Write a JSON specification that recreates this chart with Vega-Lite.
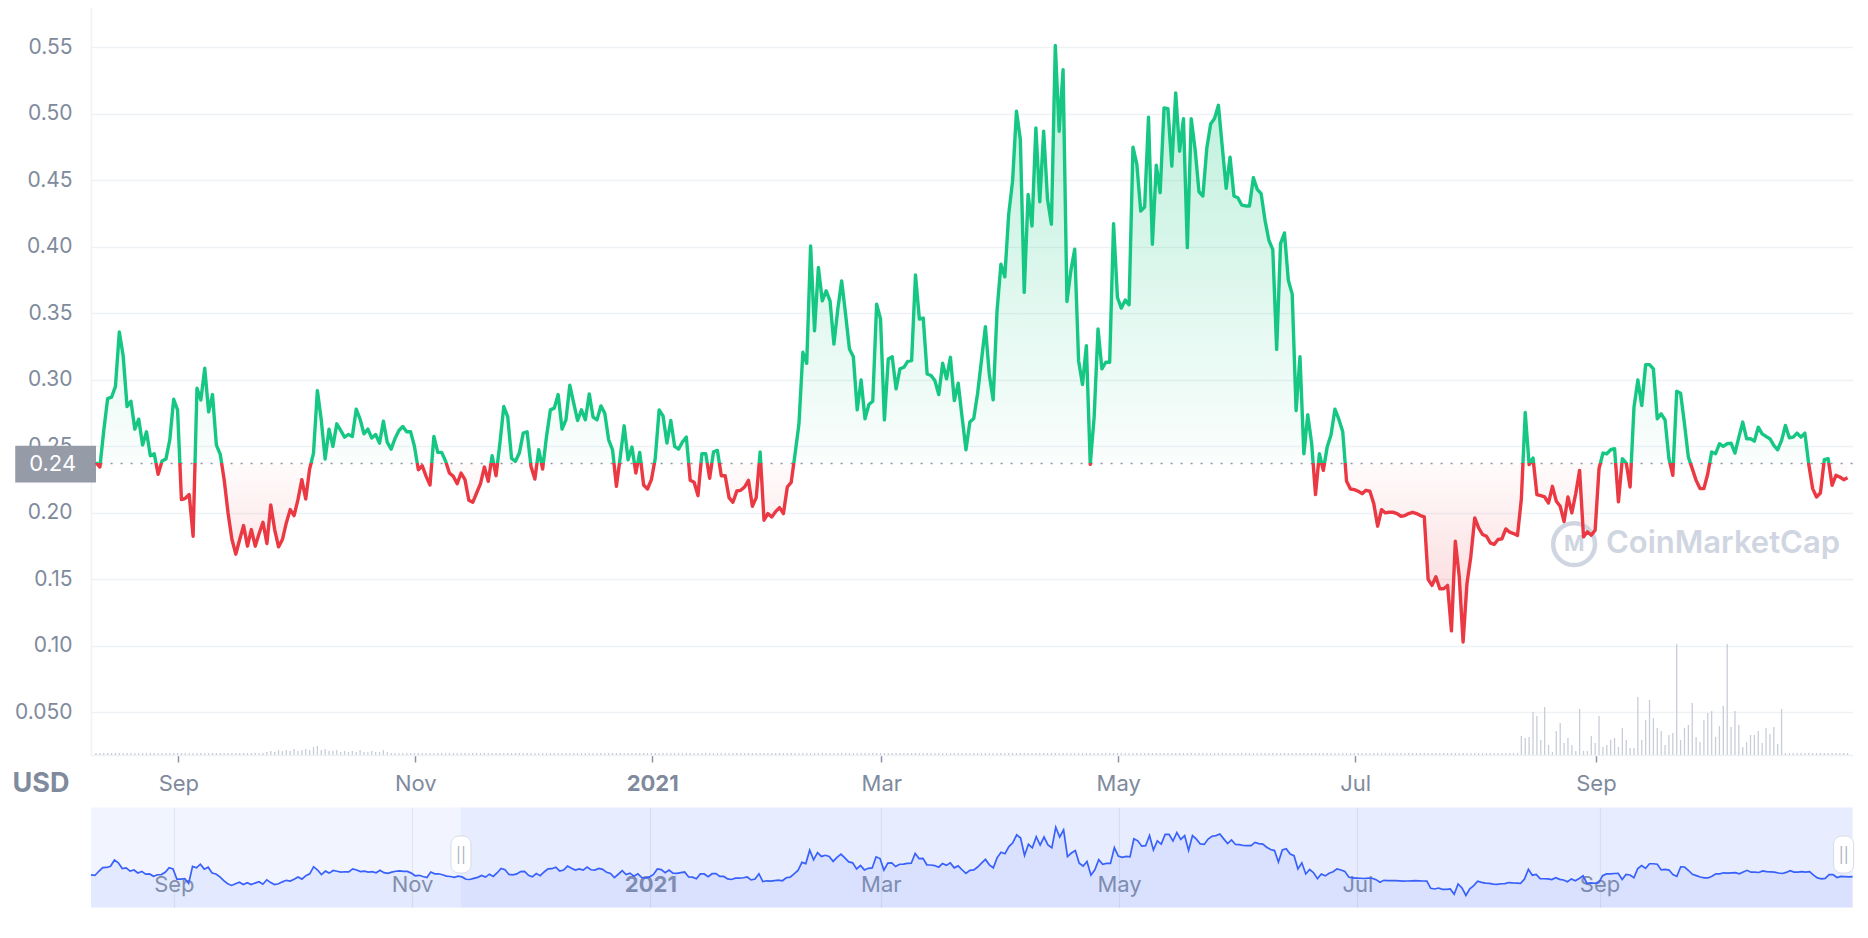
{
"$schema":"https://vega.github.io/schema/vega-lite/v6.json",
"background":"white",
"padding":{"left":12,"top":7,"right":0,"bottom":4},
"config":{"font":"Inter","view":{"stroke":null}},
"spacing":52.5,
"bounds":"flush",
"datasets":{"prices":[
{"date":"2020-08-10T19:00","price":0.238,"volume":2},
{"date":"2020-08-11T19:00","price":0.2345,"volume":2},
{"date":"2020-08-12T19:00","price":0.262,"volume":2},
{"date":"2020-08-13T19:00","price":0.286,"volume":2},
{"date":"2020-08-14T19:00","price":0.287,"volume":2},
{"date":"2020-08-15T19:00","price":0.295,"volume":2},
{"date":"2020-08-16T19:00","price":0.336,"volume":2},
{"date":"2020-08-17T19:00","price":0.318,"volume":2},
{"date":"2020-08-18T19:00","price":0.28,"volume":2},
{"date":"2020-08-19T19:00","price":0.284,"volume":2},
{"date":"2020-08-20T19:00","price":0.263,"volume":2},
{"date":"2020-08-21T19:00","price":0.2705,"volume":2},
{"date":"2020-08-22T19:00","price":0.251,"volume":2},
{"date":"2020-08-23T19:00","price":0.261,"volume":2},
{"date":"2020-08-24T19:00","price":0.243,"volume":2},
{"date":"2020-08-25T19:00","price":0.2445,"volume":2},
{"date":"2020-08-26T19:00","price":0.229,"volume":2},
{"date":"2020-08-27T19:00","price":0.239,"volume":2},
{"date":"2020-08-28T19:00","price":0.2405,"volume":2},
{"date":"2020-08-29T19:00","price":0.255,"volume":2},
{"date":"2020-08-30T19:00","price":0.2855,"volume":2},
{"date":"2020-08-31T19:00","price":0.2775,"volume":2},
{"date":"2020-09-01T19:00","price":0.21,"volume":2},
{"date":"2020-09-02T19:00","price":0.211,"volume":2},
{"date":"2020-09-03T19:00","price":0.2138,"volume":2},
{"date":"2020-09-04T19:00","price":0.1825,"volume":2},
{"date":"2020-09-05T19:00","price":0.2938,"volume":2},
{"date":"2020-09-06T19:00","price":0.285,"volume":2},
{"date":"2020-09-07T19:00","price":0.3088,"volume":2},
{"date":"2020-09-08T19:00","price":0.276,"volume":2},
{"date":"2020-09-09T19:00","price":0.289,"volume":2},
{"date":"2020-09-10T19:00","price":0.251,"volume":2},
{"date":"2020-09-11T19:00","price":0.244,"volume":2},
{"date":"2020-09-12T19:00","price":0.225,"volume":2},
{"date":"2020-09-13T19:00","price":0.2,"volume":2},
{"date":"2020-09-14T19:00","price":0.18,"volume":2},
{"date":"2020-09-15T19:00","price":0.169,"volume":2},
{"date":"2020-09-16T19:00","price":0.18,"volume":2},
{"date":"2020-09-17T19:00","price":0.1905,"volume":2},
{"date":"2020-09-18T19:00","price":0.175,"volume":2},
{"date":"2020-09-19T19:00","price":0.1875,"volume":2},
{"date":"2020-09-20T19:00","price":0.175,"volume":2},
{"date":"2020-09-21T19:00","price":0.1845,"volume":2},
{"date":"2020-09-22T19:00","price":0.193,"volume":2},
{"date":"2020-09-23T19:00","price":0.177,"volume":3},
{"date":"2020-09-24T19:00","price":0.206,"volume":4},
{"date":"2020-09-25T19:00","price":0.1875,"volume":3},
{"date":"2020-09-26T19:00","price":0.1745,"volume":5},
{"date":"2020-09-27T19:00","price":0.18,"volume":4},
{"date":"2020-09-28T19:00","price":0.1925,"volume":5},
{"date":"2020-09-29T19:00","price":0.2025,"volume":4},
{"date":"2020-09-30T19:00","price":0.198,"volume":6},
{"date":"2020-10-01T19:00","price":0.21,"volume":4},
{"date":"2020-10-02T19:00","price":0.225,"volume":5},
{"date":"2020-10-03T19:00","price":0.2105,"volume":6},
{"date":"2020-10-04T19:00","price":0.233,"volume":5},
{"date":"2020-10-05T19:00","price":0.245,"volume":8},
{"date":"2020-10-06T19:00","price":0.292,"volume":9},
{"date":"2020-10-07T19:00","price":0.27,"volume":5},
{"date":"2020-10-08T19:00","price":0.2405,"volume":6},
{"date":"2020-10-09T19:00","price":0.263,"volume":4},
{"date":"2020-10-10T19:00","price":0.25,"volume":4},
{"date":"2020-10-11T19:00","price":0.267,"volume":5},
{"date":"2020-10-12T19:00","price":0.262,"volume":3},
{"date":"2020-10-13T19:00","price":0.257,"volume":4},
{"date":"2020-10-14T19:00","price":0.259,"volume":3},
{"date":"2020-10-15T19:00","price":0.2575,"volume":4},
{"date":"2020-10-16T19:00","price":0.278,"volume":3},
{"date":"2020-10-17T19:00","price":0.2705,"volume":5},
{"date":"2020-10-18T19:00","price":0.2595,"volume":3},
{"date":"2020-10-19T19:00","price":0.263,"volume":3},
{"date":"2020-10-20T19:00","price":0.2563,"volume":4},
{"date":"2020-10-21T19:00","price":0.259,"volume":3},
{"date":"2020-10-22T19:00","price":0.2525,"volume":3},
{"date":"2020-10-23T19:00","price":0.269,"volume":5},
{"date":"2020-10-24T19:00","price":0.253,"volume":3},
{"date":"2020-10-25T19:00","price":0.248,"volume":2},
{"date":"2020-10-26T19:00","price":0.256,"volume":2},
{"date":"2020-10-27T19:00","price":0.262,"volume":2},
{"date":"2020-10-28T19:00","price":0.265,"volume":2},
{"date":"2020-10-29T19:00","price":0.261,"volume":2},
{"date":"2020-10-30T19:00","price":0.261,"volume":2},
{"date":"2020-10-31T19:00","price":0.25,"volume":2},
{"date":"2020-11-01T19:00","price":0.2325,"volume":2},
{"date":"2020-11-02T19:00","price":0.2355,"volume":2},
{"date":"2020-11-03T19:00","price":0.2275,"volume":2},
{"date":"2020-11-04T19:00","price":0.221,"volume":2},
{"date":"2020-11-05T19:00","price":0.2575,"volume":2},
{"date":"2020-11-06T19:00","price":0.2455,"volume":2},
{"date":"2020-11-07T19:00","price":0.2455,"volume":2},
{"date":"2020-11-08T19:00","price":0.239,"volume":2},
{"date":"2020-11-09T19:00","price":0.23,"volume":2},
{"date":"2020-11-10T19:00","price":0.2275,"volume":2},
{"date":"2020-11-11T19:00","price":0.222,"volume":2},
{"date":"2020-11-12T19:00","price":0.23,"volume":2},
{"date":"2020-11-13T19:00","price":0.225,"volume":2},
{"date":"2020-11-14T19:00","price":0.2095,"volume":2},
{"date":"2020-11-15T19:00","price":0.208,"volume":2},
{"date":"2020-11-16T19:00","price":0.215,"volume":2},
{"date":"2020-11-17T19:00","price":0.222,"volume":2},
{"date":"2020-11-18T19:00","price":0.2345,"volume":2},
{"date":"2020-11-19T19:00","price":0.2238,"volume":2},
{"date":"2020-11-20T19:00","price":0.243,"volume":2},
{"date":"2020-11-21T19:00","price":0.228,"volume":2},
{"date":"2020-11-22T19:00","price":0.2525,"volume":2},
{"date":"2020-11-23T19:00","price":0.28,"volume":2},
{"date":"2020-11-24T19:00","price":0.2725,"volume":2},
{"date":"2020-11-25T19:00","price":0.241,"volume":2},
{"date":"2020-11-26T19:00","price":0.2388,"volume":2},
{"date":"2020-11-27T19:00","price":0.245,"volume":2},
{"date":"2020-11-28T19:00","price":0.26,"volume":2},
{"date":"2020-11-29T19:00","price":0.261,"volume":2},
{"date":"2020-11-30T19:00","price":0.235,"volume":2},
{"date":"2020-12-01T19:00","price":0.2255,"volume":2},
{"date":"2020-12-02T19:00","price":0.2475,"volume":2},
{"date":"2020-12-03T19:00","price":0.233,"volume":2},
{"date":"2020-12-04T19:00","price":0.2575,"volume":2},
{"date":"2020-12-05T19:00","price":0.2775,"volume":2},
{"date":"2020-12-06T19:00","price":0.2788,"volume":2},
{"date":"2020-12-07T19:00","price":0.289,"volume":2},
{"date":"2020-12-08T19:00","price":0.263,"volume":2},
{"date":"2020-12-09T19:00","price":0.27,"volume":2},
{"date":"2020-12-10T19:00","price":0.296,"volume":2},
{"date":"2020-12-11T19:00","price":0.2825,"volume":2},
{"date":"2020-12-12T19:00","price":0.2695,"volume":2},
{"date":"2020-12-13T19:00","price":0.2775,"volume":2},
{"date":"2020-12-14T19:00","price":0.27,"volume":2},
{"date":"2020-12-15T19:00","price":0.2895,"volume":2},
{"date":"2020-12-16T19:00","price":0.272,"volume":2},
{"date":"2020-12-17T19:00","price":0.27,"volume":2},
{"date":"2020-12-18T19:00","price":0.2805,"volume":2},
{"date":"2020-12-19T19:00","price":0.275,"volume":2},
{"date":"2020-12-20T19:00","price":0.255,"volume":2},
{"date":"2020-12-21T19:00","price":0.2475,"volume":2},
{"date":"2020-12-22T19:00","price":0.22,"volume":2},
{"date":"2020-12-23T19:00","price":0.2425,"volume":2},
{"date":"2020-12-24T19:00","price":0.2655,"volume":2},
{"date":"2020-12-25T19:00","price":0.24,"volume":2},
{"date":"2020-12-26T19:00","price":0.2495,"volume":2},
{"date":"2020-12-27T19:00","price":0.23,"volume":2},
{"date":"2020-12-28T19:00","price":0.2455,"volume":2},
{"date":"2020-12-29T19:00","price":0.221,"volume":2},
{"date":"2020-12-30T19:00","price":0.218,"volume":2},
{"date":"2020-12-31T19:00","price":0.225,"volume":2},
{"date":"2021-01-01T19:00","price":0.241,"volume":2},
{"date":"2021-01-02T19:00","price":0.2775,"volume":2},
{"date":"2021-01-03T19:00","price":0.273,"volume":2},
{"date":"2021-01-04T19:00","price":0.2525,"volume":2},
{"date":"2021-01-05T19:00","price":0.2695,"volume":2},
{"date":"2021-01-06T19:00","price":0.25,"volume":2},
{"date":"2021-01-07T19:00","price":0.248,"volume":2},
{"date":"2021-01-08T19:00","price":0.2533,"volume":2},
{"date":"2021-01-09T19:00","price":0.257,"volume":2},
{"date":"2021-01-10T19:00","price":0.2245,"volume":2},
{"date":"2021-01-11T19:00","price":0.223,"volume":2},
{"date":"2021-01-12T19:00","price":0.213,"volume":2},
{"date":"2021-01-13T19:00","price":0.2445,"volume":2},
{"date":"2021-01-14T19:00","price":0.2445,"volume":2},
{"date":"2021-01-15T19:00","price":0.226,"volume":2},
{"date":"2021-01-16T19:00","price":0.246,"volume":2},
{"date":"2021-01-17T19:00","price":0.247,"volume":2},
{"date":"2021-01-18T19:00","price":0.228,"volume":2},
{"date":"2021-01-19T19:00","price":0.228,"volume":2},
{"date":"2021-01-20T19:00","price":0.2115,"volume":2},
{"date":"2021-01-21T19:00","price":0.208,"volume":2},
{"date":"2021-01-22T19:00","price":0.2165,"volume":2},
{"date":"2021-01-23T19:00","price":0.217,"volume":2},
{"date":"2021-01-24T19:00","price":0.2195,"volume":2},
{"date":"2021-01-25T19:00","price":0.2245,"volume":2},
{"date":"2021-01-26T19:00","price":0.205,"volume":2},
{"date":"2021-01-27T19:00","price":0.2115,"volume":2},
{"date":"2021-01-28T19:00","price":0.2458,"volume":2},
{"date":"2021-01-29T19:00","price":0.1945,"volume":2},
{"date":"2021-01-30T19:00","price":0.1995,"volume":2},
{"date":"2021-01-31T19:00","price":0.197,"volume":2},
{"date":"2021-02-01T19:00","price":0.201,"volume":2},
{"date":"2021-02-02T19:00","price":0.204,"volume":2},
{"date":"2021-02-03T19:00","price":0.1995,"volume":2},
{"date":"2021-02-04T19:00","price":0.2195,"volume":2},
{"date":"2021-02-05T19:00","price":0.223,"volume":2},
{"date":"2021-02-06T19:00","price":0.2445,"volume":2},
{"date":"2021-02-07T19:00","price":0.267,"volume":2},
{"date":"2021-02-08T19:00","price":0.3208,"volume":2},
{"date":"2021-02-09T19:00","price":0.3125,"volume":2},
{"date":"2021-02-10T19:00","price":0.4008,"volume":2},
{"date":"2021-02-11T19:00","price":0.337,"volume":2},
{"date":"2021-02-12T19:00","price":0.3845,"volume":2},
{"date":"2021-02-13T19:00","price":0.3595,"volume":2},
{"date":"2021-02-14T19:00","price":0.367,"volume":2},
{"date":"2021-02-15T19:00","price":0.3595,"volume":2},
{"date":"2021-02-16T19:00","price":0.327,"volume":2},
{"date":"2021-02-17T19:00","price":0.3533,"volume":2},
{"date":"2021-02-18T19:00","price":0.3745,"volume":2},
{"date":"2021-02-19T19:00","price":0.3495,"volume":2},
{"date":"2021-02-20T19:00","price":0.3233,"volume":2},
{"date":"2021-02-21T19:00","price":0.3175,"volume":2},
{"date":"2021-02-22T19:00","price":0.2775,"volume":2},
{"date":"2021-02-23T19:00","price":0.3,"volume":2},
{"date":"2021-02-24T19:00","price":0.2708,"volume":2},
{"date":"2021-02-25T19:00","price":0.2815,"volume":2},
{"date":"2021-02-26T19:00","price":0.284,"volume":2},
{"date":"2021-02-27T19:00","price":0.357,"volume":2},
{"date":"2021-02-28T19:00","price":0.3458,"volume":2},
{"date":"2021-03-01T19:00","price":0.27,"volume":2},
{"date":"2021-03-02T19:00","price":0.3158,"volume":2},
{"date":"2021-03-03T19:00","price":0.3175,"volume":2},
{"date":"2021-03-04T19:00","price":0.2933,"volume":2},
{"date":"2021-03-05T19:00","price":0.3083,"volume":2},
{"date":"2021-03-06T19:00","price":0.3095,"volume":2},
{"date":"2021-03-07T19:00","price":0.314,"volume":2},
{"date":"2021-03-08T19:00","price":0.3145,"volume":2},
{"date":"2021-03-09T19:00","price":0.379,"volume":2},
{"date":"2021-03-10T19:00","price":0.3458,"volume":2},
{"date":"2021-03-11T19:00","price":0.3465,"volume":2},
{"date":"2021-03-12T19:00","price":0.3045,"volume":2},
{"date":"2021-03-13T19:00","price":0.3033,"volume":2},
{"date":"2021-03-14T19:00","price":0.2995,"volume":2},
{"date":"2021-03-15T19:00","price":0.289,"volume":2},
{"date":"2021-03-16T19:00","price":0.3125,"volume":2},
{"date":"2021-03-17T19:00","price":0.3008,"volume":2},
{"date":"2021-03-18T19:00","price":0.317,"volume":2},
{"date":"2021-03-19T19:00","price":0.2845,"volume":2},
{"date":"2021-03-20T19:00","price":0.2975,"volume":2},
{"date":"2021-03-21T19:00","price":0.272,"volume":2},
{"date":"2021-03-22T19:00","price":0.2475,"volume":2},
{"date":"2021-03-23T19:00","price":0.2683,"volume":2},
{"date":"2021-03-24T19:00","price":0.271,"volume":2},
{"date":"2021-03-25T19:00","price":0.29,"volume":2},
{"date":"2021-03-26T19:00","price":0.315,"volume":2},
{"date":"2021-03-27T19:00","price":0.34,"volume":2},
{"date":"2021-03-28T19:00","price":0.3045,"volume":2},
{"date":"2021-03-29T19:00","price":0.285,"volume":2},
{"date":"2021-03-30T19:00","price":0.352,"volume":2},
{"date":"2021-03-31T19:00","price":0.387,"volume":2},
{"date":"2021-04-01T19:00","price":0.3775,"volume":2},
{"date":"2021-04-02T19:00","price":0.4245,"volume":2},
{"date":"2021-04-03T19:00","price":0.4495,"volume":2},
{"date":"2021-04-04T19:00","price":0.502,"volume":2},
{"date":"2021-04-05T19:00","price":0.4808,"volume":2},
{"date":"2021-04-06T19:00","price":0.3658,"volume":2},
{"date":"2021-04-07T19:00","price":0.4395,"volume":2},
{"date":"2021-04-08T19:00","price":0.4158,"volume":2},
{"date":"2021-04-09T19:00","price":0.4895,"volume":2},
{"date":"2021-04-10T19:00","price":0.434,"volume":2},
{"date":"2021-04-11T19:00","price":0.487,"volume":2},
{"date":"2021-04-12T19:00","price":0.4358,"volume":2},
{"date":"2021-04-13T19:00","price":0.417,"volume":2},
{"date":"2021-04-14T19:00","price":0.5515,"volume":2},
{"date":"2021-04-15T19:00","price":0.487,"volume":2},
{"date":"2021-04-16T19:00","price":0.5333,"volume":2},
{"date":"2021-04-17T19:00","price":0.359,"volume":2},
{"date":"2021-04-18T19:00","price":0.382,"volume":2},
{"date":"2021-04-19T19:00","price":0.3983,"volume":2},
{"date":"2021-04-20T19:00","price":0.3145,"volume":2},
{"date":"2021-04-21T19:00","price":0.2965,"volume":2},
{"date":"2021-04-22T19:00","price":0.3258,"volume":2},
{"date":"2021-04-23T19:00","price":0.2365,"volume":2},
{"date":"2021-04-24T19:00","price":0.272,"volume":2},
{"date":"2021-04-25T19:00","price":0.3383,"volume":2},
{"date":"2021-04-26T19:00","price":0.3083,"volume":2},
{"date":"2021-04-27T19:00","price":0.3133,"volume":2},
{"date":"2021-04-28T19:00","price":0.3133,"volume":2},
{"date":"2021-04-29T19:00","price":0.4175,"volume":2},
{"date":"2021-04-30T19:00","price":0.362,"volume":2},
{"date":"2021-05-01T19:00","price":0.354,"volume":2},
{"date":"2021-05-02T19:00","price":0.36,"volume":2},
{"date":"2021-05-03T19:00","price":0.3565,"volume":2},
{"date":"2021-05-04T19:00","price":0.475,"volume":2},
{"date":"2021-05-05T19:00","price":0.462,"volume":2},
{"date":"2021-05-06T19:00","price":0.427,"volume":2},
{"date":"2021-05-07T19:00","price":0.43,"volume":2},
{"date":"2021-05-08T19:00","price":0.4975,"volume":2},
{"date":"2021-05-09T19:00","price":0.402,"volume":2},
{"date":"2021-05-10T19:00","price":0.4615,"volume":2},
{"date":"2021-05-11T19:00","price":0.4408,"volume":2},
{"date":"2021-05-12T19:00","price":0.5045,"volume":2},
{"date":"2021-05-13T19:00","price":0.504,"volume":2},
{"date":"2021-05-14T19:00","price":0.4608,"volume":2},
{"date":"2021-05-15T19:00","price":0.5158,"volume":2},
{"date":"2021-05-16T19:00","price":0.472,"volume":2},
{"date":"2021-05-17T19:00","price":0.4965,"volume":2},
{"date":"2021-05-18T19:00","price":0.3995,"volume":2},
{"date":"2021-05-19T19:00","price":0.4965,"volume":2},
{"date":"2021-05-20T19:00","price":0.4733,"volume":2},
{"date":"2021-05-21T19:00","price":0.4415,"volume":2},
{"date":"2021-05-22T19:00","price":0.4383,"volume":2},
{"date":"2021-05-23T19:00","price":0.474,"volume":2},
{"date":"2021-05-24T19:00","price":0.4925,"volume":2},
{"date":"2021-05-25T19:00","price":0.4965,"volume":2},
{"date":"2021-05-26T19:00","price":0.5065,"volume":2},
{"date":"2021-05-27T19:00","price":0.475,"volume":2},
{"date":"2021-05-28T19:00","price":0.444,"volume":2},
{"date":"2021-05-29T19:00","price":0.4675,"volume":2},
{"date":"2021-05-30T19:00","price":0.4383,"volume":2},
{"date":"2021-05-31T19:00","price":0.437,"volume":2},
{"date":"2021-06-01T19:00","price":0.4315,"volume":2},
{"date":"2021-06-02T19:00","price":0.4308,"volume":2},
{"date":"2021-06-03T19:00","price":0.4308,"volume":2},
{"date":"2021-06-04T19:00","price":0.452,"volume":2},
{"date":"2021-06-05T19:00","price":0.4433,"volume":2},
{"date":"2021-06-06T19:00","price":0.44,"volume":2},
{"date":"2021-06-07T19:00","price":0.42,"volume":2},
{"date":"2021-06-08T19:00","price":0.405,"volume":2},
{"date":"2021-06-09T19:00","price":0.398,"volume":2},
{"date":"2021-06-10T19:00","price":0.323,"volume":2},
{"date":"2021-06-11T19:00","price":0.4025,"volume":2},
{"date":"2021-06-12T19:00","price":0.4105,"volume":2},
{"date":"2021-06-13T19:00","price":0.375,"volume":2},
{"date":"2021-06-14T19:00","price":0.3645,"volume":2},
{"date":"2021-06-15T19:00","price":0.277,"volume":2},
{"date":"2021-06-16T19:00","price":0.3175,"volume":2},
{"date":"2021-06-17T19:00","price":0.2445,"volume":2},
{"date":"2021-06-18T19:00","price":0.2738,"volume":2},
{"date":"2021-06-19T19:00","price":0.2525,"volume":2},
{"date":"2021-06-20T19:00","price":0.2138,"volume":2},
{"date":"2021-06-21T19:00","price":0.2445,"volume":2},
{"date":"2021-06-22T19:00","price":0.232,"volume":2},
{"date":"2021-06-23T19:00","price":0.2495,"volume":2},
{"date":"2021-06-24T19:00","price":0.2588,"volume":2},
{"date":"2021-06-25T19:00","price":0.278,"volume":2},
{"date":"2021-06-26T19:00","price":0.2705,"volume":2},
{"date":"2021-06-27T19:00","price":0.2613,"volume":2},
{"date":"2021-06-28T19:00","price":0.2238,"volume":2},
{"date":"2021-06-29T19:00","price":0.218,"volume":2},
{"date":"2021-06-30T19:00","price":0.2175,"volume":2},
{"date":"2021-07-01T19:00","price":0.2163,"volume":2},
{"date":"2021-07-02T19:00","price":0.2145,"volume":2},
{"date":"2021-07-03T19:00","price":0.217,"volume":2},
{"date":"2021-07-04T19:00","price":0.2163,"volume":2},
{"date":"2021-07-05T19:00","price":0.207,"volume":2},
{"date":"2021-07-06T19:00","price":0.19,"volume":2},
{"date":"2021-07-07T19:00","price":0.2025,"volume":2},
{"date":"2021-07-08T19:00","price":0.2,"volume":2},
{"date":"2021-07-09T19:00","price":0.2005,"volume":2},
{"date":"2021-07-10T19:00","price":0.2005,"volume":2},
{"date":"2021-07-11T19:00","price":0.1995,"volume":2},
{"date":"2021-07-12T19:00","price":0.1975,"volume":2},
{"date":"2021-07-13T19:00","price":0.198,"volume":2},
{"date":"2021-07-14T19:00","price":0.1995,"volume":2},
{"date":"2021-07-15T19:00","price":0.2005,"volume":2},
{"date":"2021-07-16T19:00","price":0.1995,"volume":2},
{"date":"2021-07-17T19:00","price":0.198,"volume":2},
{"date":"2021-07-18T19:00","price":0.197,"volume":2},
{"date":"2021-07-19T19:00","price":0.15,"volume":2},
{"date":"2021-07-20T19:00","price":0.1455,"volume":2},
{"date":"2021-07-21T19:00","price":0.152,"volume":2},
{"date":"2021-07-22T19:00","price":0.143,"volume":2},
{"date":"2021-07-23T19:00","price":0.143,"volume":2},
{"date":"2021-07-24T19:00","price":0.1455,"volume":2},
{"date":"2021-07-25T19:00","price":0.1113,"volume":2},
{"date":"2021-07-26T19:00","price":0.1788,"volume":2},
{"date":"2021-07-27T19:00","price":0.1525,"volume":2},
{"date":"2021-07-28T19:00","price":0.103,"volume":2},
{"date":"2021-07-29T19:00","price":0.147,"volume":2},
{"date":"2021-07-30T19:00","price":0.1675,"volume":2},
{"date":"2021-07-31T19:00","price":0.1963,"volume":2},
{"date":"2021-08-01T19:00","price":0.1888,"volume":2},
{"date":"2021-08-02T19:00","price":0.1838,"volume":2},
{"date":"2021-08-03T19:00","price":0.1825,"volume":2},
{"date":"2021-08-04T19:00","price":0.1775,"volume":2},
{"date":"2021-08-05T19:00","price":0.1763,"volume":2},
{"date":"2021-08-06T19:00","price":0.18,"volume":2},
{"date":"2021-08-07T19:00","price":0.1805,"volume":2},
{"date":"2021-08-08T19:00","price":0.188,"volume":2},
{"date":"2021-08-09T19:00","price":0.1855,"volume":2},
{"date":"2021-08-10T19:00","price":0.1845,"volume":2},
{"date":"2021-08-11T19:00","price":0.183,"volume":2},
{"date":"2021-08-12T19:00","price":0.2105,"volume":19},
{"date":"2021-08-13T19:00","price":0.2755,"volume":17},
{"date":"2021-08-14T19:00","price":0.2363,"volume":18},
{"date":"2021-08-15T19:00","price":0.2413,"volume":43},
{"date":"2021-08-16T19:00","price":0.2138,"volume":39},
{"date":"2021-08-17T19:00","price":0.213,"volume":15},
{"date":"2021-08-18T19:00","price":0.212,"volume":48},
{"date":"2021-08-19T19:00","price":0.2075,"volume":10},
{"date":"2021-08-20T19:00","price":0.22,"volume":3},
{"date":"2021-08-21T19:00","price":0.2088,"volume":24},
{"date":"2021-08-22T19:00","price":0.205,"volume":32},
{"date":"2021-08-23T19:00","price":0.1935,"volume":12},
{"date":"2021-08-24T19:00","price":0.212,"volume":17},
{"date":"2021-08-25T19:00","price":0.2,"volume":10},
{"date":"2021-08-26T19:00","price":0.2145,"volume":4},
{"date":"2021-08-27T19:00","price":0.232,"volume":46},
{"date":"2021-08-28T19:00","price":0.182,"volume":4},
{"date":"2021-08-29T19:00","price":0.1858,"volume":4},
{"date":"2021-08-30T19:00","price":0.1833,"volume":19},
{"date":"2021-08-31T19:00","price":0.187,"volume":12},
{"date":"2021-09-01T19:00","price":0.2333,"volume":39},
{"date":"2021-09-02T19:00","price":0.245,"volume":8},
{"date":"2021-09-03T19:00","price":0.2445,"volume":10},
{"date":"2021-09-04T19:00","price":0.2475,"volume":15},
{"date":"2021-09-05T19:00","price":0.2483,"volume":17},
{"date":"2021-09-06T19:00","price":0.2083,"volume":8},
{"date":"2021-09-07T19:00","price":0.2408,"volume":27},
{"date":"2021-09-08T19:00","price":0.2375,"volume":15},
{"date":"2021-09-09T19:00","price":0.2195,"volume":7},
{"date":"2021-09-10T19:00","price":0.2795,"volume":7},
{"date":"2021-09-11T19:00","price":0.3,"volume":58},
{"date":"2021-09-12T19:00","price":0.2808,"volume":15},
{"date":"2021-09-13T19:00","price":0.3115,"volume":35},
{"date":"2021-09-14T19:00","price":0.3115,"volume":55},
{"date":"2021-09-15T19:00","price":0.3083,"volume":37},
{"date":"2021-09-16T19:00","price":0.2708,"volume":27},
{"date":"2021-09-17T19:00","price":0.2745,"volume":24},
{"date":"2021-09-18T19:00","price":0.27,"volume":10},
{"date":"2021-09-19T19:00","price":0.2408,"volume":20},
{"date":"2021-09-20T19:00","price":0.2283,"volume":22},
{"date":"2021-09-21T19:00","price":0.2915,"volume":111},
{"date":"2021-09-22T19:00","price":0.29,"volume":15},
{"date":"2021-09-23T19:00","price":0.267,"volume":27},
{"date":"2021-09-24T19:00","price":0.242,"volume":30},
{"date":"2021-09-25T19:00","price":0.2333,"volume":52},
{"date":"2021-09-26T19:00","price":0.2245,"volume":18},
{"date":"2021-09-27T19:00","price":0.2183,"volume":13},
{"date":"2021-09-28T19:00","price":0.2183,"volume":35},
{"date":"2021-09-29T19:00","price":0.2295,"volume":42},
{"date":"2021-09-30T19:00","price":0.2458,"volume":44},
{"date":"2021-10-01T19:00","price":0.2445,"volume":18},
{"date":"2021-10-02T19:00","price":0.252,"volume":29},
{"date":"2021-10-03T19:00","price":0.25,"volume":49},
{"date":"2021-10-04T19:00","price":0.252,"volume":111},
{"date":"2021-10-05T19:00","price":0.2525,"volume":28},
{"date":"2021-10-06T19:00","price":0.245,"volume":44},
{"date":"2021-10-07T19:00","price":0.257,"volume":30},
{"date":"2021-10-08T19:00","price":0.2683,"volume":8},
{"date":"2021-10-09T19:00","price":0.2558,"volume":13},
{"date":"2021-10-10T19:00","price":0.2558,"volume":20},
{"date":"2021-10-11T19:00","price":0.254,"volume":20},
{"date":"2021-10-12T19:00","price":0.2645,"volume":24},
{"date":"2021-10-13T19:00","price":0.2595,"volume":12},
{"date":"2021-10-14T19:00","price":0.2575,"volume":27},
{"date":"2021-10-15T19:00","price":0.2558,"volume":21},
{"date":"2021-10-16T19:00","price":0.2508,"volume":28},
{"date":"2021-10-17T19:00","price":0.2475,"volume":11},
{"date":"2021-10-18T19:00","price":0.2545,"volume":46},
{"date":"2021-10-19T19:00","price":0.2658,"volume":2},
{"date":"2021-10-20T19:00","price":0.2565,"volume":2},
{"date":"2021-10-21T19:00","price":0.257,"volume":2},
{"date":"2021-10-22T19:00","price":0.26,"volume":2},
{"date":"2021-10-23T19:00","price":0.257,"volume":2},
{"date":"2021-10-24T19:00","price":0.26,"volume":2},
{"date":"2021-10-25T19:00","price":0.2365,"volume":2},
{"date":"2021-10-26T19:00","price":0.2183,"volume":2},
{"date":"2021-10-27T19:00","price":0.212,"volume":2},
{"date":"2021-10-28T19:00","price":0.215,"volume":2},
{"date":"2021-10-29T19:00","price":0.24,"volume":2},
{"date":"2021-10-30T19:00","price":0.2408,"volume":2},
{"date":"2021-10-31T19:00","price":0.2208,"volume":2},
{"date":"2021-11-01T19:00","price":0.2283,"volume":2},
{"date":"2021-11-02T19:00","price":0.227,"volume":2},
{"date":"2021-11-03T19:00","price":0.225,"volume":2},
{"date":"2021-11-04T19:00","price":0.2265,"volume":2}
]},
"vconcat":[
{
"width":1761.6,"height":748,
"layer":[
{"data":{"name":"prices"},
 "mark":{"type":"area","opacity":1,"fill":{"gradient":"linear","x1":0,"y1":0,"x2":0,"y2":1,"stops":[{"offset":0,"color":"rgba(22,199,132,0.30)"},{"offset":0.7008,"color":"rgba(22,199,132,0.02)"},{"offset":0.7008,"color":"rgba(234,57,67,0.02)"},{"offset":1,"color":"rgba(234,57,67,0.22)"}]}},
 "encoding":{
  "x":{"field":"date","type":"temporal","title":"USD",
   "scale":{"domain":[{"year":2020,"month":8,"date":10,"hours":19},{"year":2021,"month":11,"date":4,"hours":19}]},
   "axis":{"values":[{"year":2020,"month":9,"date":1},{"year":2020,"month":11,"date":1},{"year":2021,"month":1,"date":1},{"year":2021,"month":3,"date":1},{"year":2021,"month":5,"date":1},{"year":2021,"month":7,"date":1},{"year":2021,"month":9,"date":1}],
    "labelExpr":"month(datum.value) == 0 ? timeFormat(datum.value, '%Y') : timeFormat(datum.value, '%b')",
    "labelFontWeight":{"condition":{"test":"month(datum.value) == 0","value":"bold"},"value":"normal"},
    "labelFontSize":22,"labelColor":"#808a9d","labelPadding":29,"labelBaseline":"alphabetic","labelFlush":false,"labelOverlap":false,
    "grid":false,"ticks":true,"tickSize":7,"tickColor":"#8a93a6","tickWidth":1.5,
    "domain":true,"domainColor":"#eff2f5","domainWidth":1.5,
    "title":"USD","titleX":-79,"titleY":37,"titleAlign":"left","titleBaseline":"alphabetic","titleFontSize":27,"titleFontWeight":"bold","titleColor":"#808a9d"}},
  "y":{"field":"price","type":"quantitative","scale":{"domain":[0.018,0.5804],"nice":false,"zero":false},
   "axis":{"orient":"left","values":[0.05,0.1,0.15,0.2,0.25,0.3,0.35,0.4,0.45,0.5,0.55],
    "labelExpr":"datum.value < 0.075 ? '0.050' : format(datum.value, '.2f')",
    "labelFontSize":21,"labelColor":"#808a9d","labelPadding":19,"ticks":false,
    "grid":true,"gridColor":"#eff2f5","gridWidth":1.5,"domain":true,"domainColor":"#eff2f5","domainWidth":1.5,"title":null}},
  "y2":{"datum":0.2372}}},
{"data":{"name":"prices"},
 "mark":{"type":"bar","color":"#c8cdd8","size":1.3},
 "encoding":{
  "x":{"field":"date","type":"temporal","title":"USD"},
  "y":{"field":"volume","type":"quantitative","scale":{"domain":[0,748],"nice":false},"axis":null}}},
{"data":{"values":[{}]},
 "mark":{"type":"rule","stroke":"#8a93a6","strokeDash":[2,8],"strokeWidth":1.6},
 "encoding":{
  "y":{"datum":0.2372,"type":"quantitative","scale":{"domain":[0.018,0.5804],"nice":false,"zero":false},"axis":null}}},
{"data":{"values":[{}]},
 "mark":{"type":"rect","fill":"#969ba8"},
 "encoding":{
  "x":{"datum":{"year":2020,"month":7,"date":21},"type":"temporal"},
  "x2":{"datum":{"year":2020,"month":8,"date":10,"hours":19}},
  "y":{"datum":0.2505,"type":"quantitative","scale":{"domain":[0.018,0.5804],"nice":false,"zero":false},"axis":null},
  "y2":{"datum":0.2229}}},
{"data":{"values":[{"label":"0.24"}]},
 "mark":{"type":"text","align":"right","baseline":"middle","fontSize":22,"color":"#ffffff"},
 "encoding":{
  "x":{"datum":{"year":2020,"month":8,"date":5,"hours":16},"type":"temporal"},
  "y":{"datum":0.2367,"type":"quantitative","scale":{"domain":[0.018,0.5804],"nice":false,"zero":false},"axis":null},
  "text":{"field":"label"}}},
{"data":{"values":[{"label":"CoinMarketCap"}]},
 "mark":{"type":"text","align":"left","baseline":"middle","fontSize":31,"fontWeight":600,"color":"#d0d6e1"},
 "encoding":{
  "x":{"datum":{"year":2021,"month":9,"date":3,"hours":14},"type":"temporal"},
  "y":{"datum":0.1765,"type":"quantitative","scale":{"domain":[0.018,0.5804],"nice":false,"zero":false},"axis":null},
  "text":{"field":"label"}}},
{"data":{"values":[{}]},
 "mark":{"type":"point","shape":"circle","filled":false,"size":1750,"strokeWidth":4.5,"color":"#d0d6e1","opacity":1},
 "encoding":{
  "x":{"datum":{"year":2021,"month":8,"date":26,"hours":9},"type":"temporal"},
  "y":{"datum":0.1765,"type":"quantitative","scale":{"domain":[0.018,0.5804],"nice":false,"zero":false},"axis":null}}},
{"data":{"values":[{"label":"M"}]},
 "mark":{"type":"text","align":"center","baseline":"middle","fontSize":22,"fontWeight":700,"color":"#d0d6e1"},
 "encoding":{
  "x":{"datum":{"year":2021,"month":8,"date":26,"hours":9},"type":"temporal"},
  "y":{"datum":0.1765,"type":"quantitative","scale":{"domain":[0.018,0.5804],"nice":false,"zero":false},"axis":null},
  "text":{"field":"label"}}},
{"data":{"name":"prices"},
 "mark":{"type":"line","strokeWidth":3.4,"strokeJoin":"round","strokeCap":"butt",
  "stroke":{"gradient":"linear","x1":0,"y1":0,"x2":0,"y2":1,"stops":[{"offset":0,"color":"#16c784"},{"offset":0.7008,"color":"#16c784"},{"offset":0.7008,"color":"#ea3943"},{"offset":1,"color":"#ea3943"}]}},
 "encoding":{
  "x":{"field":"date","type":"temporal","title":"USD"},
  "y":{"field":"price","type":"quantitative","scale":{"domain":[0.018,0.5804],"nice":false,"zero":false},"axis":null}}}
],
"resolve":{"scale":{"y":"independent"}}
},
{
"width":1761.6,"height":100,
"view":{"fill":"#f2f5ff","stroke":null},
"layer":[
{"data":{"name":"prices"},
 "mark":{"type":"area","fill":"#3861fb","opacity":0.08},
 "encoding":{
  "x":{"field":"date","type":"temporal","title":null,
   "scale":{"domain":[{"year":2020,"month":8,"date":10,"hours":19},{"year":2021,"month":11,"date":4,"hours":19}]},
   "axis":{"values":[{"year":2020,"month":9,"date":1},{"year":2020,"month":11,"date":1},{"year":2021,"month":1,"date":1},{"year":2021,"month":3,"date":1},{"year":2021,"month":5,"date":1},{"year":2021,"month":7,"date":1},{"year":2021,"month":9,"date":1}],
    "labelExpr":"month(datum.value) == 0 ? timeFormat(datum.value, '%Y') : timeFormat(datum.value, '%b')",
    "labelFontWeight":{"condition":{"test":"month(datum.value) == 0","value":"bold"},"value":"normal"},
    "labelFontSize":22,"labelColor":"#8a93a6","labelPadding":-15.5,"labelBaseline":"alphabetic","labelFlush":false,"labelOverlap":false,
    "ticks":false,"tickSize":0,"domain":false,"grid":true,"gridColor":"#e2e6ee","gridWidth":1.2,"title":null}},
  "y":{"field":"price","type":"quantitative","scale":{"domain":[0.024,0.681],"nice":false,"zero":false},"axis":null},
  "y2":{"datum":0.024}}},
{"data":{"values":[{}]},
 "mark":{"type":"rect","fill":"#3861fb","opacity":0.055},
 "encoding":{
  "x":{"datum":{"year":2020,"month":11,"date":13,"hours":12},"type":"temporal"},
  "x2":{"datum":{"year":2021,"month":11,"date":4,"hours":19}}}},
{"data":{"name":"prices"},
 "mark":{"type":"line","stroke":"#3861fb","strokeWidth":1.7},
 "encoding":{
  "x":{"field":"date","type":"temporal","title":null},
  "y":{"field":"price","type":"quantitative","scale":{"domain":[0.024,0.681],"nice":false,"zero":false},"axis":null}}},
{"data":{"values":[{"date":"2020-11-13T12:00","v":0.372},{"date":"2021-11-02T12:00","v":0.372}]},
 "mark":{"type":"tick","orient":"vertical","thickness":20,"size":37,"cornerRadius":8,"fill":"#ffffff","stroke":"#d5dae5","strokeWidth":1,"opacity":1},
 "encoding":{
  "x":{"field":"date","type":"temporal","title":null},
  "y":{"field":"v","type":"quantitative","scale":{"domain":[0.024,0.681],"nice":false,"zero":false},"axis":null}}},
{"data":{"values":[{"date":"2020-11-13T12:00","v":0.372,"g":"||"},{"date":"2021-11-02T12:00","v":0.372,"g":"||"}]},
 "mark":{"type":"text","align":"center","baseline":"middle","fontSize":15,"color":"#a9b1c1"},
 "encoding":{
  "x":{"field":"date","type":"temporal","title":null},
  "y":{"field":"v","type":"quantitative","scale":{"domain":[0.024,0.681],"nice":false,"zero":false},"axis":null},
  "text":{"field":"g"}}}
]
}
]
}
